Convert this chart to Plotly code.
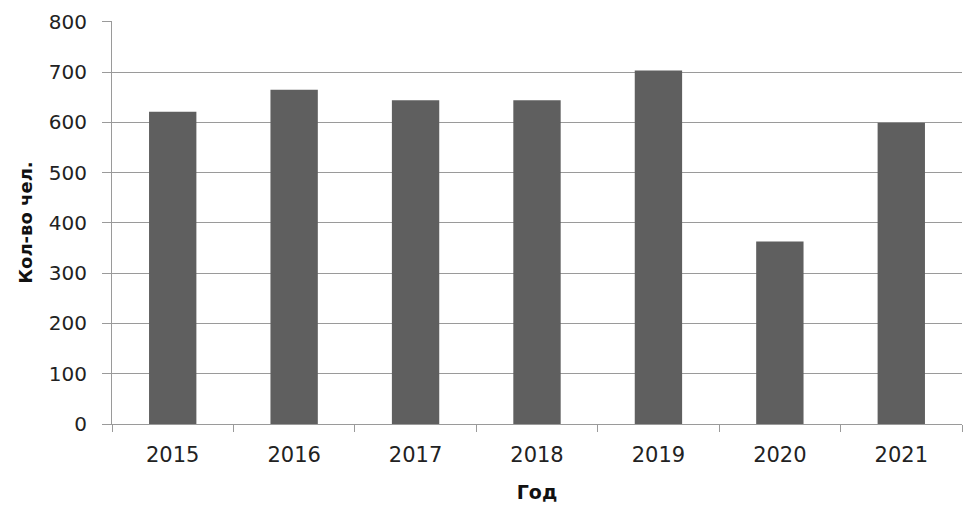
import plotly.graph_objects as go

years = ["2015", "2016", "2017", "2018", "2019", "2020", "2021"]
people = [621, 665, 644, 644, 703, 363, 599]

bar_color = "#5f5f5f"
grid_color = "#9a9a9a"
font_family = "DejaVu Sans"

fig = go.Figure()
fig.add_trace(go.Bar(x=years, y=people, marker=dict(color=bar_color, line=dict(width=0))))

# the page body adds an 8px offset, margins are set with that in mind
fig.update_layout(
    width=978, height=509,
    margin=dict(l=104, r=24, t=13, b=93),
    paper_bgcolor="white", plot_bgcolor="white",
    bargap=0.61,
    showlegend=False,
    font=dict(family=font_family, size=18, color="#222222"),
)
fig.update_xaxes(
    type="category", automargin=False,
    showline=True, linecolor=grid_color, linewidth=1,
    ticks="outside", tickson="boundaries", ticklen=7, tickcolor=grid_color,
    ticklabelstandoff=12,
    tickfont=dict(size=21),
    title=dict(text="<b>Год</b>", font=dict(size=19, color="#111111"), standoff=19),
)
# a hair above 800 so the top gridline is still drawn
fig.update_yaxes(
    range=[0, 801.5], dtick=100, automargin=False,
    showline=True, linecolor=grid_color, linewidth=1,
    showgrid=True, gridcolor=grid_color, gridwidth=1,
    zeroline=False,
    ticks="outside", ticklen=9, tickcolor=grid_color,
    ticklabelstandoff=11, ticklabeloverflow="allow",
    tickfont=dict(size=20),
    title=dict(text="<b>Кол-во чел.</b>", font=dict(size=18, color="#111111"), standoff=11),
)

fig.write_html("out.html")
